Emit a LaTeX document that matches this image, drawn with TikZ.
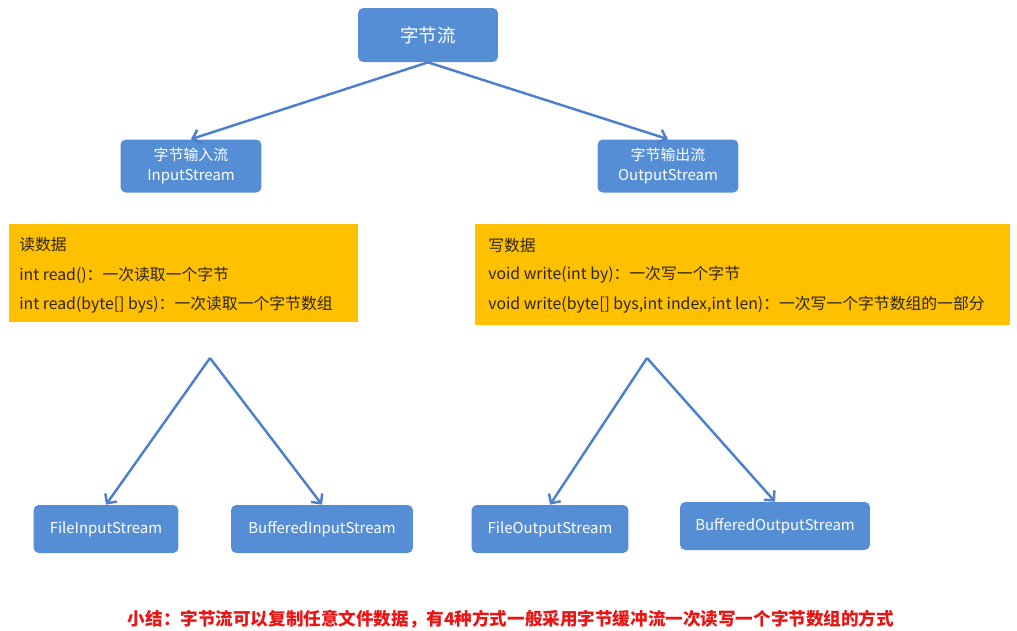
\documentclass[tikz,border=0pt]{standalone}
\usepackage{fontspec}
\setmainfont{Noto Sans CJK SC}
\usetikzlibrary{arrows.meta}

\definecolor{boxblue}{RGB}{85,142,213}
\definecolor{lineblue}{RGB}{76,128,204}
\definecolor{noteyellow}{RGB}{255,192,0}
\definecolor{notetext}{RGB}{45,38,20}
\definecolor{summaryred}{RGB}{235,20,20}

\tikzset{
  streambox/.style={fill=boxblue, rounded corners=3pt, text=white, align=center,
    minimum height=0.96cm, inner sep=1pt, font=\fontsize{8.5}{11.5}\selectfont},
  notebox/.style={fill=noteyellow, anchor=north west, inner sep=0},
  noteline/.style={anchor=west, inner sep=0, text=notetext, font=\fontsize{9}{11}\selectfont},
  flow/.style={draw=lineblue, line width=1.4pt, -{Straight Barb[length=4pt,width=8pt]}}
}

\begin{document}
\begin{tikzpicture}[x=0.02cm, y=-0.02cm]
  \useasboundingbox (0,0) rectangle (1017,630);

  % Top levels
  \node[streambox, minimum width=2.8cm, minimum height=1.08cm,
    font=\fontsize{10.5}{12}\selectfont] (bytes) at (428,35) {字节流};
  \node[streambox, minimum width=2.82cm, minimum height=1.06cm] (instream) at (191,166) {字节输入流\\InputStream};
  \node[streambox, minimum width=2.82cm, minimum height=1.06cm] (outstream) at (668,166) {字节输出流\\OutputStream};

  \draw[flow] (bytes.south) -- (instream.north);
  \draw[flow] (bytes.south) -- (outstream.north);

  % Method notes
  \node[notebox, minimum width=6.98cm, minimum height=1.96cm] (readnote) at (9,224) {};
  \node[notebox, minimum width=10.7cm, minimum height=2.02cm] (writenote) at (475,224) {};
  \foreach \t [count=\i] in {读数据, int read()：一次读取一个字节, {int read(byte[] bys)：一次读取一个字节数组}} {
    \node[noteline] (read\i) at (19,215+30*\i) {\t};
  }
  \foreach \t [count=\i] in {写数据, {void write(int by)：一次写一个字节}, {void write(byte[] bys,int index,int len)：一次写一个字节数组的一部分}} {
    \node[noteline] (write\i) at (488,215+30*\i) {\t};
  }

  % Implementations
  \coordinate (inapex) at (210,358);
  \coordinate (outapex) at (647,358);
  \foreach \name/\x/\y/\w/\t in {fileIn/106/529/2.9/FileInputStream, bufIn/322/529/3.64/BufferedInputStream,
    fileOut/550/529/3.14/FileOutputStream, bufOut/775/526/3.8/BufferedOutputStream} {
    \node[streambox, minimum width=\w cm] (\name) at (\x,\y) {\t};
  }
  \draw[flow] (inapex) -- (fileIn.north);
  \draw[flow] (inapex) -- (bufIn.north);
  \draw[flow] (outapex) -- (fileOut.north);
  \draw[flow] (outapex) -- (bufOut.north);

  % Summary
  \node[text=summaryred, font=\bfseries\fontsize{10}{12}\selectfont] (summary) at (511,619)
    {小结：字节流可以复制任意文件数据，有4种方式一般采用字节缓冲流一次读写一个字节数组的方式};
\end{tikzpicture}
\end{document}
